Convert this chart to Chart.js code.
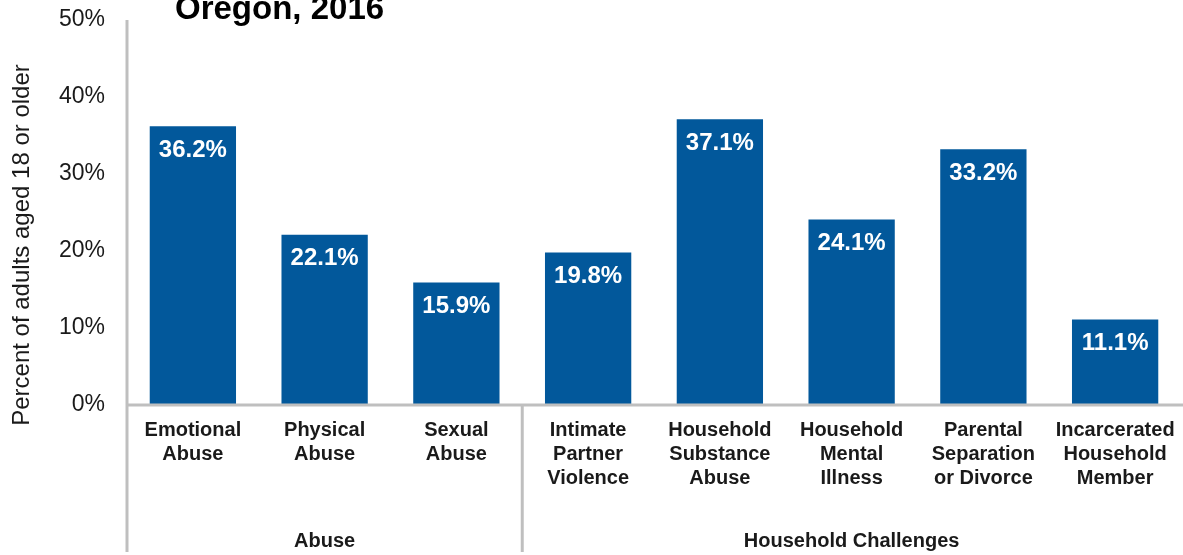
<!DOCTYPE html>
<html><head><meta charset="utf-8">
<script src="https://cdn.jsdelivr.net/npm/chart.js@4"></script>
<style>html,body{margin:0;padding:0;background:#fff;}#wrap{width:1183px;height:555px;position:relative;}</style>
</head><body><div id="wrap"><canvas id="c" width="1183" height="555"></canvas></div>
<script>
const categories = [
  ["Emotional","Abuse"],["Physical","Abuse"],["Sexual","Abuse"],
  ["Intimate","Partner","Violence"],["Household","Substance","Abuse"],["Household","Mental","Illness"],
  ["Parental","Separation","or Divorce"],["Incarcerated","Household","Member"]
];
const values = [36.2, 22.1, 15.9, 19.8, 37.1, 24.1, 33.2, 11.1];
const groups = [{label:"Abuse", count:3},{label:"Household Challenges", count:5}];
const yTicks = [0,10,20,30,40,50];
const titleText = "Oregon, 2016";
const yTitle = "Percent of adults aged 18 or older";

const FONT = "'Liberation Sans', Arial, sans-serif";
const AXIS = "#BFBFBF";

const overlay = {
  id:'overlay',
  afterDraw(chart){
    const ctx = chart.ctx, x = chart.scales.x, y = chart.scales.y, ca = chart.chartArea;
    ctx.save();
    ctx.strokeStyle = AXIS; ctx.lineWidth = 3;
    ctx.beginPath(); ctx.moveTo(ca.left, y.getPixelForValue(50)); ctx.lineTo(ca.left, 552); ctx.stroke();
    ctx.beginPath(); ctx.moveTo(ca.left, y.getPixelForValue(0)); ctx.lineTo(1183, y.getPixelForValue(0)); ctx.stroke();
    const step = (ca.right - ca.left) / categories.length;
    let idx = 0;
    ctx.fillStyle = "#1a1a1a"; ctx.font = "bold 20px " + FONT; ctx.textAlign = "center"; ctx.textBaseline = "middle";
    groups.forEach((g, gi) => {
      const start = ca.left + idx*step, end = ca.left + (idx+g.count)*step;
      if (gi > 0) { ctx.beginPath(); ctx.moveTo(start, y.getPixelForValue(0)); ctx.lineTo(start, 552); ctx.stroke(); }
      ctx.fillText(g.label, (start+end)/2, 541);
      idx += g.count;
    });
    const meta = chart.getDatasetMeta(0);
    ctx.fillStyle = "#ffffff"; ctx.font = "bold 24px " + FONT;
    meta.data.forEach((bar, i) => {
      ctx.fillText(values[i].toFixed(1) + "%", bar.x, bar.y + 24);
    });
    ctx.fillStyle = "#000"; ctx.font = "bold 33px " + FONT; ctx.textAlign = "left"; ctx.textBaseline = "alphabetic";
    ctx.fillText(titleText, 175, 19);
    ctx.translate(22, 245); ctx.rotate(-Math.PI/2);
    ctx.fillStyle = "#1a1a1a"; ctx.font = "24px " + FONT; ctx.textAlign = "center"; ctx.textBaseline = "middle";
    ctx.fillText(yTitle, 0, 0);
    ctx.restore();
  }
};

new Chart(document.getElementById('c'), {
  type: 'bar',
  data: { labels: categories, datasets: [{ data: values, backgroundColor: "#02589B", categoryPercentage: 1.0, barPercentage: 0.655 }] },
  options: {
    responsive: false, animation: false, devicePixelRatio: 1,
    layout: { padding: { top: 20, right: 2, left: 0, bottom: 0 } },
    plugins: { legend: { display: false }, tooltip: { enabled: false } },
    scales: {
      x: {
        grid: { display: false, drawTicks: false }, border: { display: false },
        ticks: { color: "#1a1a1a", font: { family: FONT, size: 20, weight: 'bold', lineHeight: 1.18 }, padding: 14, maxRotation: 0, autoSkip: false },
        afterFit(s){ s.height = 150; s.paddingLeft = 0; s.paddingRight = 0; s.paddingTop = 0; s.paddingBottom = 0; }
      },
      y: {
        min: 0, max: 50,
        afterBuildTicks(s){ s.ticks = yTicks.map(v => ({value: v})); },
        grid: { display: false, drawTicks: false }, border: { display: false },
        ticks: { color: "#1a1a1a", font: { family: FONT, size: 23 }, padding: 22, callback: v => v + "%" },
        afterFit(s){ s.width = 127; s.paddingTop = 0; s.paddingBottom = 0; }
      }
    }
  },
  plugins: [overlay]
});
</script></body></html>
